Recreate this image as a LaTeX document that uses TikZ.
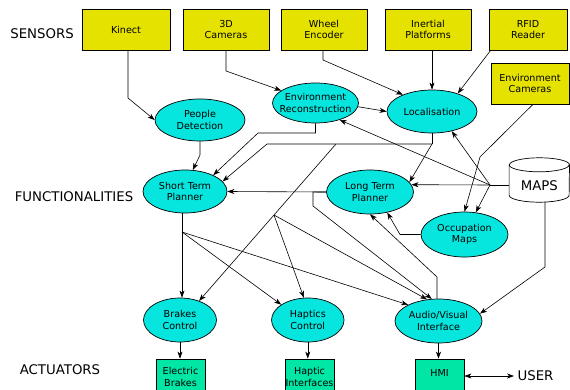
\documentclass[tikz,border=0pt]{standalone}
\usepackage{fontspec}
\setmainfont{DejaVu Sans}
\usetikzlibrary{shapes.geometric,arrows.meta,calc}
\definecolor{sensY}{RGB}{229,226,0}
\definecolor{funcC}{RGB}{6,230,222}
\definecolor{actG}{RGB}{0,230,165}
\begin{document}
\begin{tikzpicture}[x=1pt,y=-1pt,
  every node/.style={font=\fontsize{9.6}{11.5}\selectfont, align=center, text=black},
  sensor/.style={draw, fill=sensY, line width=0.7pt, minimum width=86pt, minimum height=41pt, inner sep=1pt},
  func/.style={draw, fill=funcC, ellipse, line width=0.7pt, inner sep=0pt},
  act/.style={draw, fill=actG, line width=0.7pt, minimum width=49pt, minimum height=36pt, inner sep=0pt},
  lbl/.style={font=\fontsize{13.3}{15}\selectfont},
  arr/.style={-{Stealth[length=7pt,width=5pt,inset=2pt]}, line width=0.6pt},
  arrtwo/.style={{Stealth[length=7pt,width=5pt,inset=2pt]}-{Stealth[length=7pt,width=5pt,inset=2pt]}, line width=0.6pt},
  plain/.style={line width=0.6pt},
  cyl/.style={line width=0.7pt},
]
\useasboundingbox (0,0) rectangle (570,390);

% labels
\node[lbl] (sensors) at (42,34) {SENSORS};
\node[lbl] (funcs) at (74,197) {FUNCTIONALITIES};
\node[lbl] (acts) at (60,370) {ACTUATORS};
\node[lbl] (user) at (535.5,376) {USER};

% sensors
\node[sensor, minimum width=88pt] (kinect) at (126,29.5) {Kinect};
\node[sensor] (cam) at (226,29.5) {3D\\Cameras};
\node[sensor] (wheel) at (324,29.5) {Wheel\\Encoder};
\node[sensor] (inert) at (428,29.5) {Inertial\\Platforms};
\node[sensor, minimum width=78pt] (rfid) at (528,29.5) {RFID\\Reader};
\node[sensor, minimum width=78pt] (envcam) at (530,83.5) {Environment\\Cameras};

% functionalities
\node[func, minimum width=90pt, minimum height=42pt, label=center:{People\\Detection}] (pd) at (200,120) {};
\node[func, minimum width=86pt, minimum height=40pt, label=center:{Environment\\Reconstruction}] (envrec) at (315.5,103) {};
\node[func, minimum width=90pt, minimum height=43pt, label=center:{Localisation}] (loc) at (432,111.5) {};
\node[func, minimum width=84pt, minimum height=43pt, label=center:{Short Term\\Planner}] (stp) at (185,191.5) {};
\node[func, minimum width=87pt, minimum height=44pt, label=center:{Long Term\\Planner}] (ltp) at (370,192) {};
\node[func, minimum width=87pt, minimum height=45pt, label=center:{Occupation\\Maps}] (occ) at (464.5,234.5) {};
\node[func, minimum width=73pt, minimum height=44pt, label=center:{Brakes\\Control}] (brakes) at (180,320) {};
\node[func, minimum width=72.5pt, minimum height=44pt, label=center:{Haptics\\Control}] (haptics) at (307.8,320) {};
\node[func, minimum width=87pt, minimum height=44pt, label=center:{Audio/Visual\\Interface}] (av) at (438.5,321) {};

% maps (cylinder drawn round the node)
\node[rectangle, minimum width=60pt, minimum height=44pt, inner sep=0pt,
      label={[lbl, yshift=-6pt]center:MAPS}] (maps) at (539.3,180) {};
\draw[cyl] ([yshift=-7pt]maps.north west) -- ([yshift=7pt]maps.south west)
  arc[start angle=180, end angle=360, x radius=30pt, y radius=7pt]
  -- ([yshift=-7pt]maps.north east)
  arc[start angle=0, end angle=180, x radius=30pt, y radius=7pt] -- cycle;
\draw[cyl] ([yshift=-7pt]maps.north west)
  arc[start angle=180, end angle=360, x radius=30pt, y radius=7pt];

% actuators
\node[act] (ebrakes) at (180.5,377) {Electric\\Brakes};
\node[act] (hif) at (309.5,377) {Haptic\\Interfaces};
\node[act, text height=7pt, text depth=8pt] (hmi) at (439.5,377) {HMI};

% junction coordinates
\coordinate (J) at (490,185);
\coordinate (K) at (432,144);
\coordinate (P) at (274,215);
\coordinate (Q) at (182,232);

% sensor connections
\draw[arr] ([xshift=2pt]kinect.south) -- (128,98) -- (pd.west);
\draw[arr] (cam.south) -- (226,71) -- (envrec.160);
\draw[arr] ([xshift=-1pt]wheel.south) -- (323,60) -- (loc.150);
\draw[arr] (inert.south -| loc.north) -- (loc.north);
\draw[arr] ([xshift=2pt]rfid.south west) -- (loc.35);
\draw[arr] ([xshift=3pt]envcam.south) -- (480,157) -- (occ.north);

% functionalities
\draw[arr] (envrec.-5) -- (loc.west);
\draw[arr] (pd.south) -- (200,155) -- (stp.70);
\draw[arr] (envrec.south) -- (315.5,133) -- (258,133) -- (stp.30);

% maps
\draw[plain] (maps.west |- J) -- (J);
\draw[arr] (J) -- (ltp.10);
\draw[arr] (J) -- (loc.-45);
\draw[arr] (J) -- (occ.63);
\draw[arr] (J) -- (envrec.-35);
\draw[arr] (maps.south -| 545,0) -- (545,267) -- (av.10);

% localisation
\draw[plain] (loc.south) -- (K);
\draw[arr] (K) -- (ltp.14);
\draw[arr] (K) -- (267,144) -- (stp.15);
\draw[plain] (336,144) -- (P);
\draw[arr] (P) -- (brakes.45);
\draw[arr] (P) -- (haptics.100);
\draw[arr] (P) -- (av.118);

% short term planner
\draw[plain] ([xshift=-3pt]stp.south) -- (Q);
\draw[arr] (Q) -- (Q |- brakes.north);
\draw[arr] (Q) -- (haptics.150);
\draw[arr] (Q) -- (av.152);

% long term planner
\draw[arr] (ltp.west) -- (stp.east);
\draw[arr] (ltp.west) -| (313,206) -- (av.107);
\draw[arr] ([xshift=-1.5pt]av.north) -- (437,277) -- (ltp.south);
\draw[arr] (occ.west) -- (400,234.5) -- (ltp.-50);

% actuators
\draw[arr] (brakes.south) -- (brakes.south |- ebrakes.north);
\draw[arr] (haptics.south) -- (haptics.south |- hif.north);
\draw[arr] (av.south) -- (av.south |- hmi.north);
\draw[arrtwo] (hmi.east |- user.west) -- (user.west);
\end{tikzpicture}
\end{document}
